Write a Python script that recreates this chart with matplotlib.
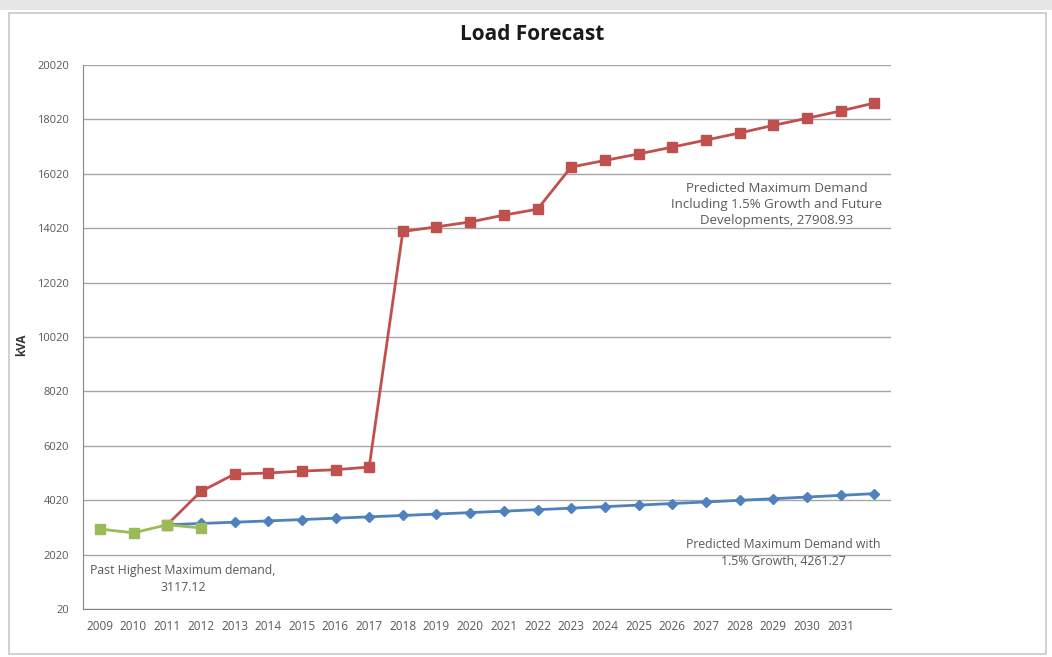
"""Load forecast chart: past demand and two predicted maximum demand series."""

import matplotlib

matplotlib.use("Agg")
import matplotlib.pyplot as plt
from matplotlib.patches import Rectangle

plt.rcParams["font.family"] = ["Open Sans", "DejaVu Sans"]

# categories shown on the x axis (last one has no label in the original)
years = list(range(2009, 2033))
year_labels = [str(y) for y in range(2009, 2032)] + [""]

# past recorded maximum demand, 2009-2012
past_years = [2009, 2010, 2011, 2012]
past_demand = [2960, 2820, 3117, 3000]

# predicted maximum demand with 1.5% growth, 2011-2032
growth_years = list(range(2011, 2033))
growth_demand = [3117, 3164, 3211, 3259, 3308, 3358, 3408, 3459, 3511, 3564, 3617,
                 3672, 3727, 3783, 3839, 3897, 3955, 4015, 4075, 4136, 4198, 4261]

# predicted maximum demand incl. future developments, 2011-2032
future_years = list(range(2011, 2033))
future_demand = [3117, 4340, 4980, 5020, 5090, 5140, 5240, 13900, 14070, 14250, 14500,
                 14720, 16270, 16510, 16750, 17000, 17260, 17520, 17800, 18060, 18330, 18620]

y_ticks = list(range(20, 20021, 2000))

RED = "#c0504d"
BLUE = "#4f81bd"
GREEN = "#9bbb59"
TEXT = "#595959"


def idx(values):
    return [years.index(v) for v in values]


fig = plt.figure(figsize=(10.52, 6.57), dpi=100)
fig.patches.append(Rectangle((0.009, 0.005), 0.985, 0.975, transform=fig.transFigure,
                             fill=False, edgecolor="#c8c8c8", linewidth=1.2))
fig.patches.append(Rectangle((0, 0.985), 1, 0.015, transform=fig.transFigure,
                             color="#e6e6e6", linewidth=0))

ax = fig.add_axes([83 / 1052, 1 - 609 / 657, (891 - 83) / 1052, (609 - 65) / 657])

ax.plot(idx(future_years), future_demand, color=RED, linewidth=2, marker="s",
        markersize=6.5, markeredgecolor=RED, zorder=3)
ax.plot(idx(growth_years), growth_demand, color=BLUE, linewidth=2, marker="D",
        markersize=5, markeredgecolor=BLUE, zorder=3)
ax.plot(idx(past_years), past_demand, color=GREEN, linewidth=2, marker="s",
        markersize=6.5, markeredgecolor=GREEN, zorder=4)

ax.set_xlim(-0.5, len(years) - 0.5)
ax.set_ylim(20, 20020)
ax.set_yticks(y_ticks)
ax.set_yticklabels([str(v) for v in y_ticks], fontsize=8, color=TEXT)
ax.set_xticks(range(len(years)))
ax.set_xticklabels(year_labels, fontsize=8.5, color=TEXT)
ax.tick_params(axis="y", length=0, pad=10)
ax.tick_params(axis="x", length=0, pad=8)
ax.grid(axis="y", color="#a6a6a6", linewidth=1)
ax.set_axisbelow(True)
for side in ["top", "right"]:
    ax.spines[side].set_visible(False)
for side in ["left", "bottom"]:
    ax.spines[side].set_color("#868686")

fig.text(22 / 1052, 1 - 345 / 657, "kVA", rotation=90, ha="center", va="center",
         fontsize=8.5, fontweight="bold", color="#333333")
fig.text(532 / 1052, 1 - 35 / 657, "Load Forecast", ha="center", va="center",
         fontsize=15, fontweight="bold", color="#1a1a1a")

ax.text(2.47, 1140, "Past Highest Maximum demand,\n3117.12", ha="center", va="center",
        fontsize=8.8, color=TEXT, linespacing=1.4)
ax.text(20.3, 2080, "Predicted Maximum Demand with\n1.5% Growth, 4261.27", ha="center",
        va="center", fontsize=8.8, color=TEXT, linespacing=1.4)
ax.text(20.1, 14900, "Predicted Maximum Demand\nIncluding 1.5% Growth and Future\nDevelopments, 27908.93",
        ha="center", va="center", fontsize=9.5, color=TEXT, linespacing=1.3)

fig.savefig("out.png", dpi=100)
